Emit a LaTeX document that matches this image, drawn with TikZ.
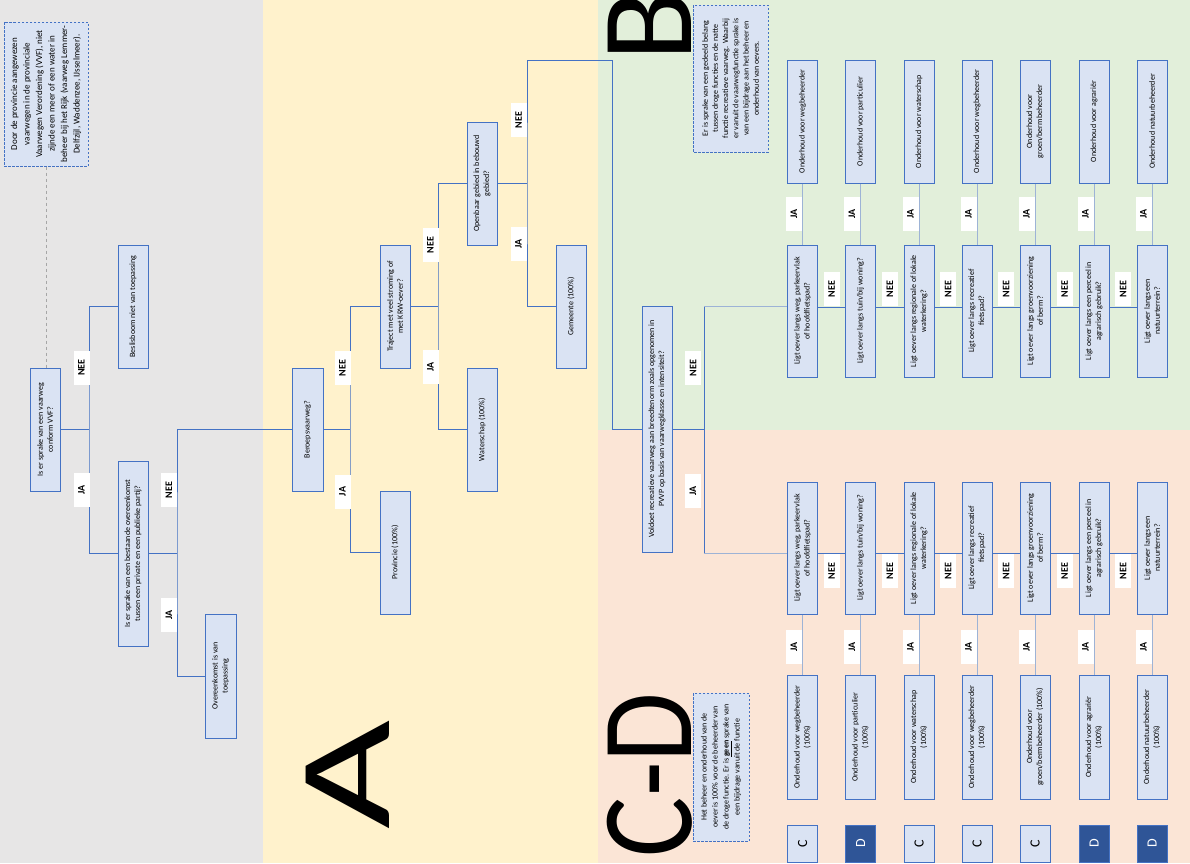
\documentclass[tikz,border=0pt]{standalone}
\usepackage{fontspec}
\setmainfont{Carlito}
\definecolor{bggray}{HTML}{E7E6E6}
\definecolor{bgyellow}{HTML}{FFF2CC}
\definecolor{bggreen}{HTML}{E2EFDA}
\definecolor{bgsalmon}{HTML}{FBE5D6}
\definecolor{boxfill}{HTML}{DAE3F3}
\definecolor{boxline}{HTML}{4472C4}
\definecolor{stubline}{HTML}{9DB3D6}
\definecolor{darkbox}{HTML}{2F5597}
\definecolor{guide}{HTML}{A6A6A6}
\begin{document}
\begin{tikzpicture}[x=1pt,y=-1pt,
  vbox/.style 2 args={draw=boxline, fill=boxfill, line width=1pt, rotate=90,
    minimum width=#1, minimum height=#2, inner sep=1pt, align=center,
    font=\fontsize{8}{10}\selectfont},
  notebox/.style 2 args={vbox={#1}{#2}, dash pattern=on 2.5pt off 1.5pt},
  conn/.style={draw=boxline, line width=1pt},
  stub/.style={draw=stubline, line width=1pt},
  tag/.style={fill=white, rotate=90, minimum width=34, minimum height=16,
    inner sep=0pt, font=\fontsize{10}{10}\selectfont\bfseries},
  cbox/.style={draw=boxline, fill=boxfill, line width=1pt, rotate=90,
    minimum width=37, minimum height=30, inner sep=0pt,
    font=\fontsize{14}{14}\selectfont},
  dbox/.style={cbox, fill=darkbox, text=white},
  bigletter/.style={rotate=90, inner sep=0pt, font=\fontsize{130}{130}\selectfont}
]
\useasboundingbox (0,0) rectangle (1190,863);
\clip (0,0) rectangle (1190,863);

% background bands
\fill[bggray]   (0,0)   rectangle (263,863);
\fill[bgyellow] (263,0) rectangle (598,863);
\fill[bggreen]  (598,0) rectangle (1190,430);
\fill[bgsalmon] (598,430) rectangle (1190,863);

% section letters
\node[bigletter] (bigA)  at (348,775) {\scalebox{1.45}[1]{A}};
\node[bigletter] (bigB)  at (650,26)  {B};
\node[bigletter] (bigCD) at (650,775) {\scalebox{0.87}[1]{C-D}};

% ---------- column A: provincial waterways ----------
\node[notebox={144}{84}, font=\fontsize{9}{12.5}\selectfont] (note1) at (46,94)
  {Door de provincie aangewezen\\vaarwegen in de provinciale\\Vaarwegen Verordening (VVF), niet\\zijnde een meer of een water in\\beheer bij het Rijk (vaarweg Lemmer-\\Delfzijl, Waddenzee, IJsselmeer).};
\node[vbox={123}{30}] (q1) at (45,429.5) {Is er sprake van een vaarweg\\conform VVF?};
\node[vbox={123}{30}] (besl) at (133,306.5) {Beslisboom niet van toepassing};
\node[vbox={185}{30}] (q2) at (133,553.5) {Is er sprake van een bestaande overeenkomst\\tussen een private en een publieke partij?};
\node[vbox={124}{31}] (overeen) at (220.5,676) {Overeenkomst is van\\toepassing};

\node[vbox={123}{31}] (beroeps) at (307.5,429.5) {Beroepsvaarweg?};
\node[vbox={123}{30}] (traject) at (395,306.5) {Traject met veel stroming of\\met KRW-oever?};
\node[vbox={123}{30}] (provincie) at (395,552.5) {Provincie (100\%)};
\node[vbox={123}{30}] (waterschap) at (482,429.5) {Waterschap (100\%)};
\node[vbox={123}{30}] (openbaar) at (482,183.5) {Openbaar gebied in bebouwd\\gebied?};
\node[vbox={123}{30}] (gemeente) at (571,306.5) {Gemeente (100\%)};

\node[vbox={246}{30}] (q3) at (657,429) {Voldoet recreatieve vaarweg aan breedtenorm zoals opgenomen in\\PVVP op basis van vaarwegklasse en intensiteit?};

% branch points
\coordinate (j1) at (89,429.5);
\coordinate (j2) at (177,553.5);
\coordinate (j3) at (350,429.5);
\coordinate (j4) at (438,306.5);
\coordinate (j5) at (527,183.5);
\coordinate (k1) at (612,60);
\coordinate (j6) at (704,429);
\coordinate (j6top) at (704,306);
\coordinate (j6bot) at (704,553);
\coordinate (grow) at (0,307);
\coordinate (srow) at (0,553);

\draw[guide, dashed, line width=0.6pt] (note1.west) -- (note1.west |- q1.east);

\draw[conn] (q1.south) -- (j1);
\draw[conn] (besl.north) -| (j1) |- (q2.north);
\draw[conn] (q2.south) -- (j2);
\draw[conn] (beroeps.north) -| (j2) |- (overeen.north);
\draw[conn] (beroeps.south) -- (j3);
\draw[conn] (traject.north) -| (j3) |- (provincie.north);
\draw[conn] (traject.south) -- (j4);
\draw[conn] (openbaar.north) -| (j4) |- (waterschap.north);
\draw[conn] (openbaar.south) -- (j5);
\draw[conn] (q3.north) -| (k1) -| (j5) |- (gemeente.north);
\draw[conn] (q3.south) -- (j6);
\draw[conn] (j6top) -- (j6bot);

\node[tag] (t1n) at (81.5,367.5) {NEE};
\node[tag] (t1j) at (81.5,490) {JA};
\node[tag] (t2n) at (169,490) {NEE};
\node[tag] (t2j) at (169,615) {JA};
\node[tag] (t3n) at (342.5,368) {NEE};
\node[tag] (t3j) at (342.5,491.5) {JA};
\node[tag] (t4n) at (430.5,245) {NEE};
\node[tag] (t4j) at (430.5,367) {JA};
\node[tag] (t5n) at (518.5,120) {NEE};
\node[tag] (t5j) at (518.5,244) {JA};
\node[tag] (t6n) at (693,368) {NEE};
\node[tag] (t6j) at (693,491) {JA};

% ---------- column B ----------
\node[notebox={147}{75}, font=\fontsize{8}{10.2}\selectfont] (noteB) at (730.5,78.5)
  {Er is sprake van een gedeeld belang\\tussen droge functies en de natte\\functie recreatieve vaarweg. Waarbij\\er vanuit de vaarwegfunctie sprake is\\van een bijdrage  aan het beheer en\\onderhoud van oevers.};

\node[vbox={123}{30}] (go1) at (802.5,121.5) {Onderhoud voor wegbeheerder};
\node[vbox={123}{30}] (go2) at (860.5,121.5) {Onderhoud voor particulier};
\node[vbox={123}{30}] (go3) at (919,121.5)   {Onderhoud voor waterschap};
\node[vbox={123}{30}] (go4) at (977,121.5)   {Onderhoud voor wegbeheerder};
\node[vbox={123}{30}] (go5) at (1035,121.5)  {Onderhoud voor\\groen/bermbeheerder};
\node[vbox={123}{30}] (go6) at (1094,121.5)  {Onderhoud voor agrariër};
\node[vbox={123}{30}] (go7) at (1152,121.5)  {Onderhoud natuurbeheerder};

\node[vbox={132}{30}] (gq1) at (802.5,311) {Ligt oever langs weg, parkeervlak\\of hoofdfietspad?};
\node[vbox={132}{30}] (gq2) at (860.5,311) {Ligt oever langs tuin/bij woning?};
\node[vbox={132}{30}] (gq3) at (919,311)   {Ligt oever langs regionale of lokale\\waterkering?};
\node[vbox={132}{30}] (gq4) at (977,311)   {Ligt oever langs recreatief\\fietspad?};
\node[vbox={132}{30}] (gq5) at (1035,311)  {Ligt oever langs groenvoorziening\\of berm?};
\node[vbox={132}{30}] (gq6) at (1094,311)  {Ligt oever langs een perceel in\\agrarisch gebruik?};
\node[vbox={132}{30}] (gq7) at (1152,311)  {Ligt oever langs een\\natuurterrein?};

% ---------- column C-D ----------
\node[notebox={148}{56}, font=\fontsize{8}{11}\selectfont] (noteCD) at (721,767)
  {Het beheer en onderhoud van de\\oever is 100\% voor de beheerder van\\de droge functie. Er is \underline{\textbf{geen}} sprake van\\een bijdrage  vanuit de functie};

\node[vbox={132}{30}] (sq1) at (802.5,548) {Ligt oever langs weg, parkeervlak\\of hoofdfietspad?};
\node[vbox={132}{30}] (sq2) at (860.5,548) {Ligt oever langs tuin/bij woning?};
\node[vbox={132}{30}] (sq3) at (919,548)   {Ligt oever langs regionale of lokale\\waterkering?};
\node[vbox={132}{30}] (sq4) at (977,548)   {Ligt oever langs recreatief\\fietspad?};
\node[vbox={132}{30}] (sq5) at (1035,548)  {Ligt oever langs groenvoorziening\\of berm?};
\node[vbox={132}{30}] (sq6) at (1094,548)  {Ligt oever langs een perceel in\\agrarisch gebruik?};
\node[vbox={132}{30}] (sq7) at (1152,548)  {Ligt oever langs een\\natuurterrein?};

\node[vbox={124}{30}] (so1) at (802.5,737) {Onderhoud voor wegbeheerder\\(100\%)};
\node[vbox={124}{30}] (so2) at (860.5,737) {Onderhoud voor particulier\\(100\%)};
\node[vbox={124}{30}] (so3) at (919,737)   {Onderhoud voor waterschap\\(100\%)};
\node[vbox={124}{30}] (so4) at (977,737)   {Onderhoud voor wegbeheerder\\(100\%)};
\node[vbox={124}{30}] (so5) at (1035,737)  {Onderhoud voor\\groen/bermbeheerder (100\%)};
\node[vbox={124}{30}] (so6) at (1094,737)  {Onderhoud voor agrariër\\(100\%)};
\node[vbox={124}{30}] (so7) at (1152,737)  {Onderhoud natuurbeheerder\\(100\%)};

\node[cbox] (lt1) at (802.5,843.5) {C};
\node[dbox] (lt2) at (860.5,843.5) {D};
\node[cbox] (lt3) at (919,843.5)   {C};
\node[cbox] (lt4) at (977,843.5)   {C};
\node[cbox] (lt5) at (1035,843.5)  {C};
\node[dbox] (lt6) at (1094,843.5)  {D};
\node[dbox] (lt7) at (1152,843.5)  {D};

% entry into both rows
\draw[stub] (j6top) -- (j6top -| gq1.north);
\draw[stub] (j6bot) -- (j6bot -| sq1.north);

% row connectors and stubs
\foreach \i/\j in {1/2,2/3,3/4,4/5,5/6,6/7} {
  \draw[conn] (gq\i.south |- grow) -- (gq\j.north |- grow);
  \draw[conn] (sq\i.south |- srow) -- (sq\j.north |- srow);
}
\foreach \i in {1,...,7} {
  \draw[stub] (go\i.west) -- (gq\i.east);
  \draw[stub] (sq\i.west) -- (so\i.east);
}

\foreach \i/\cx in {1/802.5,2/860.5,3/919,4/977,5/1035,6/1094,7/1152} {
  \node[tag] (gja\i) at (\cx-8.5,214) {JA};
  \node[tag] (sja\i) at (\cx-8.5,647) {JA};
}
\foreach \i/\mx in {1/831.5,2/889.75,3/948,4/1006,5/1064.5,6/1123} {
  \node[tag] (gnee\i) at (\mx,289) {NEE};
  \node[tag] (snee\i) at (\mx,571) {NEE};
}
\end{tikzpicture}
\end{document}
